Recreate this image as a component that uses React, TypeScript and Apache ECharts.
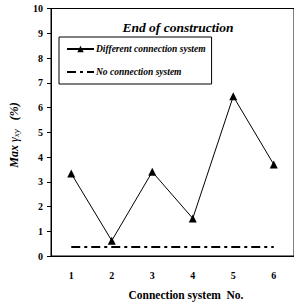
import React, { useEffect, useRef } from "react";
import * as echarts from "echarts";

const categories = ["1", "2", "3", "4", "5", "6"];
const differentSystem = [3.33, 0.62, 3.4, 1.52, 6.45, 3.7];
const noSystem = [0.36, 0.36, 0.36, 0.36, 0.36, 0.36];
const seriesNames = ["Different connection system", "No connection system"];
const titleText = "End of construction";
const xName = "Connection system  No.";

const serif = "'Liberation Serif', 'DejaVu Serif', serif";

export default function App() {
  const ref = useRef<HTMLDivElement>(null);
  useEffect(() => {
    if (!ref.current) return;
    const chart = echarts.init(ref.current, null, { renderer: "svg" });
    chart.setOption({
      animation: false,
      backgroundColor: "#fff",
      grid: {
        left: 51,
        right: -8,
        top: 8.5,
        bottom: 48,
        show: true,
        borderColor: "#000",
        borderWidth: 1,
      },
      title: {
        text: titleText,
        left: 173,
        top: 15,
        textAlign: "center",
        textStyle: {
          fontFamily: serif,
          fontStyle: "italic",
          fontWeight: "bold",
          fontSize: 13.5,
          color: "#000",
        },
      },
      legend: {
        left: 59,
        top: 37,
        orient: "vertical",
        backgroundColor: "#fff",
        borderColor: "#000",
        borderWidth: 1,
        borderRadius: 0,
        padding: [7, 6, 7, 7],
        itemGap: 13,
        itemWidth: 27,
        itemHeight: 8,
        data: [
          { name: seriesNames[0] },
          { name: seriesNames[1], itemStyle: { color: "rgba(0,0,0,0)", borderWidth: 0, opacity: 0 } },
        ],
        textStyle: {
          fontFamily: serif,
          fontStyle: "italic",
          fontWeight: "bold",
          fontSize: 9.5,
          color: "#000",
          padding: [0, 0, 0, -3],
        },
      },
      xAxis: {
        type: "category",
        data: categories,
        boundaryGap: true,
        axisLine: { lineStyle: { color: "#000", width: 1 } },
        axisTick: { inside: true, length: 4, lineStyle: { color: "#000" } },
        axisLabel: {
          margin: 14,
          fontFamily: serif,
          fontWeight: "bold",
          fontSize: 10,
          color: "#000",
        },
        splitLine: { show: false },
      },
      yAxis: {
        type: "value",
        min: 0,
        max: 10,
        interval: 1,
        axisLine: { show: true, lineStyle: { color: "#000", width: 1 } },
        axisTick: { show: true, inside: false, length: 4, lineStyle: { color: "#000" } },
        axisLabel: {
          margin: 8,
          fontFamily: serif,
          fontWeight: "bold",
          fontSize: 10,
          color: "#000",
        },
        splitLine: { show: false },
      },
      graphic: [
        {
          type: "text",
          x: 14,
          y: 135,
          rotation: Math.PI / 2,
          style: {
            text: "{b|Max }{g|γ}{s|xy}{b|   (%)}",
            align: "center",
            verticalAlign: "middle",
            fill: "#000",
            rich: {
              b: { fontFamily: serif, fontStyle: "italic", fontWeight: "bold", fontSize: 12, fill: "#000" },
              g: { fontFamily: serif, fontStyle: "italic", fontSize: 12, fill: "#000" },
              s: { fontFamily: serif, fontStyle: "italic", fontSize: 9, fill: "#000", padding: [4, 0, 0, 0] },
            },
          },
        },
        {
          type: "text",
          x: 186,
          y: 295,
          style: {
            text: xName,
            align: "center",
            verticalAlign: "middle",
            fontFamily: serif,
            fontWeight: "bold",
            fontSize: 11.5,
            fill: "#000",
          },
        },
      ],
      series: [
        {
          name: seriesNames[0],
          type: "line",
          data: differentSystem,
          symbol: "triangle",
          symbolSize: 8,
          itemStyle: { color: "#000" },
          lineStyle: { color: "#000", width: 1 },
        },
        {
          name: seriesNames[1],
          type: "line",
          data: noSystem,
          symbol: "none",
          itemStyle: { color: "#000" },
          lineStyle: { color: "#000", width: 2, type: [9, 4, 3, 4] },
        },
      ],
    });
    return () => chart.dispose();
  }, []);
  return (
    <div
      ref={ref}
      style={{ position: "absolute", left: 0, top: 0, width: 294, height: 304 }}
    />
  );
}
